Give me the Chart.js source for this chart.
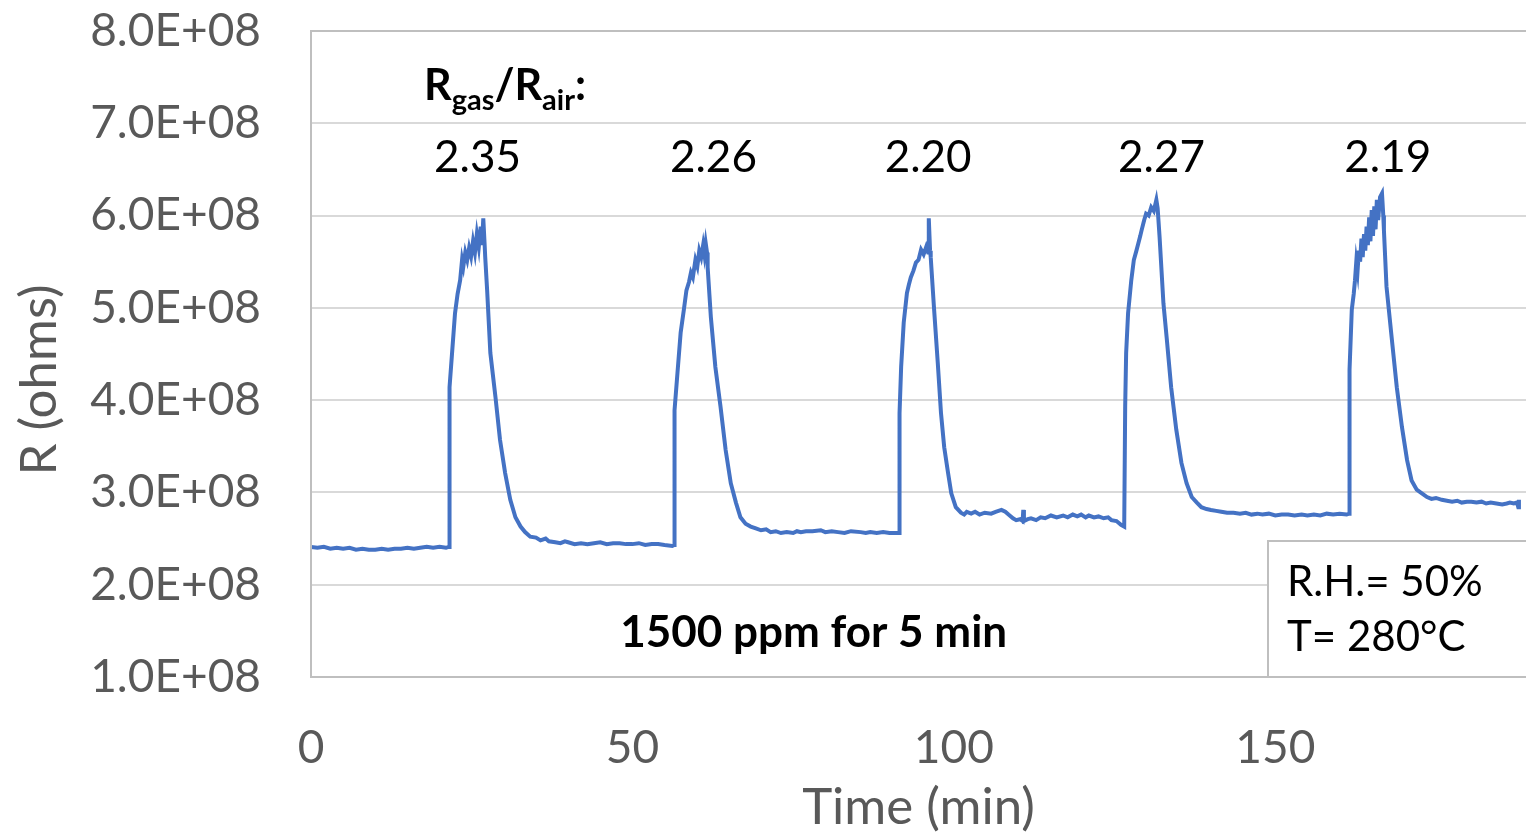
<!DOCTYPE html>
<html>
<head>
<meta charset="utf-8">
<script src="https://cdn.jsdelivr.net/npm/chart.js@4.4.1/dist/chart.umd.min.js"></script>
<style>
  html, body { margin: 0; padding: 0; background: #fff; }
  #wrap { width: 1526px; height: 832px; position: relative; }
</style>
</head>
<body>
<div id="wrap"><canvas id="sensorChart" width="1526" height="832"></canvas></div>
<script>
// time in minutes, resistance in units of 1E+08 ohms
const timeMin = [
  0, 1, 2, 3, 4, 5, 6, 7, 8, 9, 10, 11, 12, 13, 14, 15, 16, 17, 18, 19, 20, 21, 21.4,
  21.5, 21.55, 21.9, 22.4, 22.8, 23.2, 23.5, 23.7, 24.0, 24.3, 24.6, 24.9, 25.2, 25.5, 25.8, 26.1, 26.4, 26.6, 26.8, 27.0,
  27.1, 27.4, 27.9, 28.7, 29.4, 30.2, 31.0, 31.8, 32.6, 33.3, 34.1, 35.0,
  35.7, 36.5, 37, 38, 38.8, 39.5, 40, 41, 42, 43, 44, 45, 46, 47, 48, 49, 50, 51, 52, 53, 54, 55, 56.2,
  56.5, 56.55, 57.0, 57.5, 58.0, 58.4, 58.8, 59.1, 59.4, 59.8, 60.1, 60.4, 60.7, 61.0, 61.2, 61.4, 61.6,
  61.7, 62.2, 62.9, 63.7, 64.5, 65.3, 66.1, 66.8, 67.6,
  68.4, 69.2, 70, 70.8, 71.5, 72.3, 73.1, 74, 75, 75.6, 76.2, 77, 78, 79.3, 80, 81, 82, 83, 84, 85.5, 86.3, 87, 88, 89, 90, 91.3,
  91.5, 91.55, 91.8, 92.2, 92.7, 93.0, 93.3, 93.7, 94.1, 94.5, 94.9, 95.3, 95.7, 96.0, 96.1, 96.3,
  96.4, 96.9, 97.5, 98.0, 98.5, 99.1, 99.6, 100.3,
  101.1, 101.6, 102, 102.7, 103.3, 104, 104.8, 105.8, 106.5, 107.4, 108, 108.5, 109.2, 109.7, 110.3, 110.7, 110.8, 110.9, 111.5, 112,
  112.8, 113.5, 114.2, 115.1, 116, 117, 117.7, 118.5, 119.2, 119.8, 120.5, 121, 121.8, 122.5, 123.3, 124, 124.5, 125.3, 126, 126.5,
  126.6, 126.65, 126.8, 127.1, 127.6, 128.0, 128.4, 128.7, 129.0, 129.2, 129.6, 129.9, 130.3, 130.7, 131.1, 131.5, 131.7,
  132.0, 132.6, 133.1, 133.8, 134.6, 135.4, 136.2, 137.0, 137.8,
  138.5, 139.3, 140, 140.8, 141.6, 142.5, 143.5, 144.5, 145.4, 146.3, 147.2, 148, 149, 150, 151, 152, 153, 154.1, 155, 156, 157, 158, 159, 160, 161.1,
  161.5, 161.55, 161.9, 162.2, 162.4, 162.6, 162.8, 163.0, 163.2, 163.4, 163.6, 163.8, 164.0, 164.2, 164.4, 164.6, 164.8,
  165.0, 165.2, 165.4, 165.6, 165.8, 166.0, 166.3, 166.6, 166.8,
  166.9, 167.3, 168.1, 168.9, 169.7, 170.5, 171.2, 172.0, 172.8,
  173.6, 174.3, 175, 175.9, 176.7, 177.5, 178.3, 179, 179.8, 180.5, 181.3, 182.1, 182.8, 183.5, 184.4, 185.3, 186, 186.5, 187.1, 187.6, 187.8, 187.9
];
const resistance = [
  2.41, 2.40, 2.41, 2.39, 2.40, 2.39, 2.40, 2.38, 2.39, 2.38, 2.38, 2.39, 2.38, 2.39, 2.39, 2.40, 2.39, 2.40, 2.41, 2.40, 2.41, 2.40, 2.41,
  2.41, 4.14, 4.47, 4.94, 5.15, 5.30, 5.52, 5.45, 5.60, 5.52, 5.65, 5.56, 5.72, 5.60, 5.80, 5.66, 5.88, 5.68, 5.97, 5.70,
  5.55, 5.19, 4.51, 4.03, 3.57, 3.21, 2.92, 2.73, 2.63, 2.57, 2.52, 2.51,
  2.48, 2.50, 2.47, 2.46, 2.45, 2.47, 2.46, 2.44, 2.45, 2.44, 2.45, 2.46, 2.44, 2.45, 2.45, 2.44, 2.44, 2.45, 2.43, 2.44, 2.44, 2.43, 2.42,
  2.43, 3.89, 4.29, 4.73, 4.98, 5.19, 5.28, 5.38, 5.33, 5.52, 5.45, 5.62, 5.55, 5.68, 5.58, 5.70, 5.60,
  5.44, 4.90, 4.36, 3.93, 3.46, 3.10, 2.89, 2.73, 2.66,
  2.63, 2.61, 2.59, 2.60, 2.57, 2.58, 2.56, 2.57, 2.56, 2.58, 2.57, 2.58, 2.58, 2.59, 2.57, 2.58, 2.57, 2.56, 2.58, 2.57, 2.56, 2.57, 2.56, 2.57, 2.56, 2.56,
  2.56, 3.86, 4.36, 4.84, 5.16, 5.25, 5.33, 5.40, 5.49, 5.52, 5.63, 5.58, 5.66, 5.60, 5.97, 5.62,
  5.55, 5.01, 4.40, 3.86, 3.49, 3.21, 2.99, 2.84,
  2.78, 2.76, 2.79, 2.77, 2.79, 2.76, 2.78, 2.77, 2.79, 2.81, 2.79, 2.76, 2.72, 2.70, 2.71, 2.69, 2.81, 2.69, 2.71, 2.72,
  2.70, 2.73, 2.72, 2.75, 2.73, 2.75, 2.73, 2.76, 2.74, 2.76, 2.73, 2.75, 2.73, 2.74, 2.72, 2.73, 2.70, 2.69, 2.65, 2.63,
  2.63, 3.93, 4.51, 4.94, 5.30, 5.52, 5.62, 5.70, 5.78, 5.84, 5.95, 6.02, 6.00, 6.09, 6.05, 6.17, 6.08,
  5.77, 5.05, 4.68, 4.14, 3.68, 3.32, 3.10, 2.95, 2.89,
  2.84, 2.82, 2.81, 2.80, 2.79, 2.78, 2.78, 2.77, 2.78, 2.76, 2.77, 2.76, 2.77, 2.75, 2.76, 2.76, 2.75, 2.76, 2.75, 2.76, 2.75, 2.77, 2.76, 2.77, 2.76,
  2.77, 4.33, 4.98, 5.15, 5.30, 5.50, 5.40, 5.62, 5.50, 5.75, 5.55, 5.80, 5.62, 5.88, 5.68, 5.98, 5.72,
  6.06, 5.78, 6.10, 5.85, 6.17, 5.95, 6.20, 6.24, 6.00,
  5.84, 5.23, 4.68, 4.14, 3.71, 3.35, 3.13, 3.03, 2.99,
  2.95, 2.93, 2.94, 2.92, 2.91, 2.90, 2.91, 2.89, 2.90, 2.90, 2.89, 2.90, 2.88, 2.89, 2.88, 2.87, 2.88, 2.89, 2.88, 2.89, 2.84, 2.92
];

// response ratios written above each pulse
const ratioLabels = ["2.35", "2.26", "2.20", "2.27", "2.19"];
const ratioTimes = [25.9, 62.6, 96.0, 132.3, 167.5];
const ratioLevel = 6.63;

const xTicks = [0, 50, 100, 150];

const points = timeMin.map((t, i) => ({ x: t, y: resistance[i] }));

const FONT = "Lato, 'Open Sans', sans-serif";
const GRAY = "#595959";

const annotations = {
  id: "annotations",
  afterDatasetsDraw(chart) {
    const ctx = chart.ctx;
    const xs = chart.scales.x;
    const ys = chart.scales.y;
    const area = chart.chartArea;
    ctx.save();

    // plot area frame
    ctx.strokeStyle = "#bfbfbf";
    ctx.lineWidth = 2;
    ctx.strokeRect(area.left, area.top, area.right - area.left + 4, area.bottom - area.top);

    // Rgas/Rair:
    ctx.fillStyle = "#000";
    ctx.textBaseline = "alphabetic";
    ctx.textAlign = "left";
    let x = 424;
    const base = 100;
    const parts = [["R", 43, 0], ["gas", 29, 10], ["/R", 43, 0], ["air", 29, 10], [":", 43, 0]];
    parts.forEach(p => {
      ctx.font = "bold " + p[1] + "px " + FONT;
      ctx.fillText(p[0], x, base + p[2]);
      x += ctx.measureText(p[0]).width;
    });

    // ratio values
    ctx.font = "44px " + FONT;
    ctx.textAlign = "center";
    ctx.textBaseline = "middle";
    ratioLabels.forEach((lbl, i) => {
      ctx.fillText(lbl, xs.getPixelForValue(ratioTimes[i]), ys.getPixelForValue(ratioLevel));
    });

    // exposure note
    ctx.font = "bold 44px " + FONT;
    ctx.fillText("1500 ppm for 5 min", xs.getPixelForValue(78.2), ys.getPixelForValue(1.48));

    // conditions box
    const bx = 1268, by = 541;
    ctx.fillStyle = "#fff";
    ctx.fillRect(bx, by, 1526 - bx + 2, area.bottom - by);
    ctx.strokeStyle = "#bfbfbf";
    ctx.strokeRect(bx, by, 1526 - bx + 10, area.bottom - by);
    ctx.fillStyle = "#000";
    ctx.textAlign = "left";
    ctx.font = "42px " + FONT;
    ctx.fillText("R.H.= 50%", 1287, 582);
    ctx.fillText("T= 280\u00B0C", 1287, 637);

    // axis titles
    ctx.fillStyle = GRAY;
    ctx.font = "51px " + FONT;
    ctx.textAlign = "center";
    ctx.fillText("Time (min)", (area.left + area.right) / 2, 808);
    ctx.translate(40, 380);
    ctx.rotate(-Math.PI / 2);
    ctx.fillText("R (ohms)", 0, 0);
    ctx.restore();
  }
};

new Chart(document.getElementById("sensorChart"), {
  type: "line",
  data: {
    datasets: [{
      data: points,
      borderColor: "#4472C4",
      borderWidth: 4,
      pointRadius: 0,
      tension: 0,
      fill: false
    }]
  },
  options: {
    responsive: false,
    animation: false,
    events: [],
    layout: { padding: 0 },
    plugins: { legend: { display: false }, tooltip: { enabled: false } },
    scales: {
      x: {
        type: "linear",
        min: 0,
        max: 189,
        afterBuildTicks: (scale) => { scale.ticks = xTicks.map(v => ({ value: v })); },
        afterFit: (scale) => { scale.height = 155; scale.paddingLeft = 0; scale.paddingRight = 0; },
        ticks: { color: GRAY, font: { family: FONT, size: 46 }, padding: 44, maxRotation: 0 },
        grid: { display: false, drawTicks: false },
        border: { display: false }
      },
      y: {
        min: 1,
        max: 8,
        afterFit: (scale) => { scale.width = 311; scale.paddingTop = 31; scale.paddingBottom = 0; },
        ticks: {
          stepSize: 1,
          color: GRAY,
          font: { family: FONT, size: 46 },
          padding: 50,
          callback: (v) => v.toFixed(1) + "E+08"
        },
        grid: { color: "#d9d9d9", lineWidth: 2, drawTicks: false },
        border: { display: false }
      }
    }
  },
  plugins: [annotations]
});
</script>
</body>
</html>
